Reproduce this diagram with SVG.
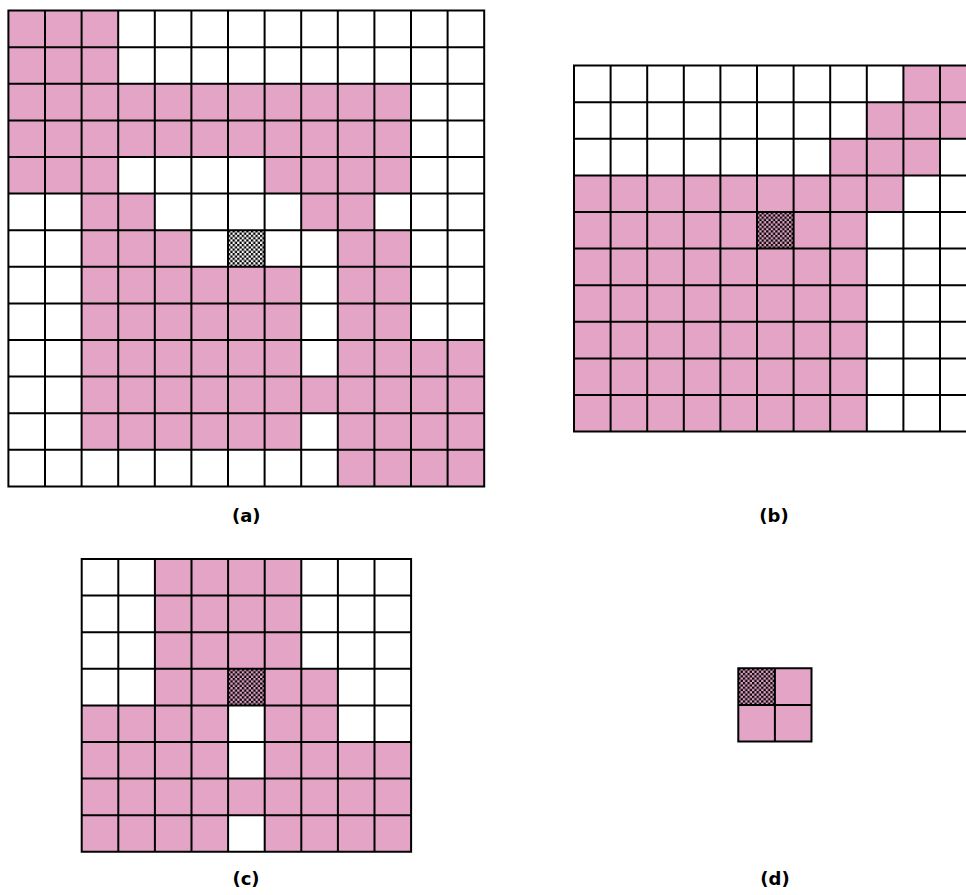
<svg xmlns="http://www.w3.org/2000/svg" width="966" height="895" viewBox="0 0 966 895">
<style>
.bg{fill:#ffffff}
.p{fill:#E3A4C6}
.g{fill:none;stroke:#000;stroke-width:2;stroke-linecap:square}
.lbl{font-family:"DejaVu Sans",sans-serif;font-weight:bold;font-size:18px;fill:#000;text-anchor:middle}
</style>
<defs>
<pattern id="chkW" patternUnits="userSpaceOnUse" width="4.575" height="4.575">
<rect width="4.575" height="4.575" fill="#fff"/>
<rect width="2.2875" height="2.2875" fill="#000"/>
<rect x="2.2875" y="2.2875" width="2.2875" height="2.2875" fill="#000"/>
</pattern>
<pattern id="chkP" patternUnits="userSpaceOnUse" width="4.575" height="4.575">
<rect width="4.575" height="4.575" fill="#E3A4C6"/>
<rect width="2.2875" height="2.2875" fill="#000"/>
<rect x="2.2875" y="2.2875" width="2.2875" height="2.2875" fill="#000"/>
</pattern>
</defs>
<rect width="966" height="895" fill="#fff"/>

<g id="grid-a" transform="translate(8.4,10.6)">
<rect class="bg" width="475.8" height="475.8"/>
<rect class="p" x="0" y="0" width="109.8" height="73.2"/>
<rect class="p" x="0" y="73.2" width="402.6" height="73.2"/>
<rect class="p" x="0" y="146.4" width="109.8" height="36.6"/>
<rect class="p" x="256.2" y="146.4" width="146.4" height="36.6"/>
<rect class="p" x="73.2" y="183" width="73.2" height="36.6"/>
<rect class="p" x="292.8" y="183" width="73.2" height="36.6"/>
<rect class="p" x="73.2" y="219.6" width="109.8" height="36.6"/>
<rect class="p" x="329.4" y="219.6" width="73.2" height="109.8"/>
<rect class="p" x="73.2" y="256.2" width="219.6" height="183"/>
<rect class="p" x="329.4" y="329.4" width="146.4" height="146.4"/>
<rect class="p" x="292.8" y="366" width="36.6" height="36.6"/>
<rect x="219.6" y="219.6" width="36.6" height="36.6" fill="url(#chkW)"/>
<path class="g" d="M0 0V475.8M36.6 0V475.8M73.2 0V475.8M109.8 0V475.8M146.4 0V475.8M183 0V475.8M219.6 0V475.8M256.2 0V475.8M292.8 0V475.8M329.4 0V475.8M366 0V475.8M402.6 0V475.8M439.2 0V475.8M475.8 0V475.8M0 0H475.8M0 36.6H475.8M0 73.2H475.8M0 109.8H475.8M0 146.4H475.8M0 183H475.8M0 219.6H475.8M0 256.2H475.8M0 292.8H475.8M0 329.4H475.8M0 366H475.8M0 402.6H475.8M0 439.2H475.8M0 475.8H475.8"/>
</g>

<g id="grid-b" transform="translate(574,65.6)">
<rect class="bg" width="402.6" height="366"/>
<rect class="p" x="329.4" y="0" width="73.2" height="73.2"/>
<rect class="p" x="292.8" y="36.6" width="36.6" height="36.6"/>
<rect class="p" x="256.2" y="73.2" width="109.8" height="36.6"/>
<rect class="p" x="0" y="109.8" width="329.4" height="36.6"/>
<rect class="p" x="0" y="146.4" width="292.8" height="219.6"/>
<rect x="183" y="146.4" width="36.6" height="36.6" fill="url(#chkP)"/>
<path class="g" d="M0 0V366M36.6 0V366M73.2 0V366M109.8 0V366M146.4 0V366M183 0V366M219.6 0V366M256.2 0V366M292.8 0V366M329.4 0V366M366 0V366M402.6 0V366M0 0H402.6M0 36.6H402.6M0 73.2H402.6M0 109.8H402.6M0 146.4H402.6M0 183H402.6M0 219.6H402.6M0 256.2H402.6M0 292.8H402.6M0 329.4H402.6M0 366H402.6"/>
</g>

<g id="grid-c" transform="translate(81.7,559)">
<rect class="bg" width="329.4" height="292.8"/>
<rect class="p" x="73.2" y="0" width="146.4" height="146.4"/>
<rect class="p" x="219.6" y="109.8" width="36.6" height="73.2"/>
<rect class="p" x="0" y="146.4" width="146.4" height="146.4"/>
<rect class="p" x="183" y="146.4" width="73.2" height="146.4"/>
<rect class="p" x="256.2" y="183" width="73.2" height="109.8"/>
<rect class="p" x="146.4" y="219.6" width="36.6" height="36.6"/>
<rect x="146.4" y="109.8" width="36.6" height="36.6" fill="url(#chkP)"/>
<path class="g" d="M0 0V292.8M36.6 0V292.8M73.2 0V292.8M109.8 0V292.8M146.4 0V292.8M183 0V292.8M219.6 0V292.8M256.2 0V292.8M292.8 0V292.8M329.4 0V292.8M0 0H329.4M0 36.6H329.4M0 73.2H329.4M0 109.8H329.4M0 146.4H329.4M0 183H329.4M0 219.6H329.4M0 256.2H329.4M0 292.8H329.4"/>
</g>

<g id="grid-d" transform="translate(738.3,668.3)">
<rect class="p" width="73.2" height="73.2"/>
<rect x="0" y="0" width="36.6" height="36.6" fill="url(#chkP)"/>
<path class="g" d="M0 0V73.2M36.6 0V73.2M73.2 0V73.2M0 0H73.2M0 36.6H73.2M0 73.2H73.2"/>
</g>

<g id="labels">
<text class="lbl" x="246.3" y="522">(a)</text>
<text class="lbl" x="774" y="522">(b)</text>
<text class="lbl" x="246" y="885">(c)</text>
<text class="lbl" x="775" y="885">(d)</text>
</g>
</svg>
